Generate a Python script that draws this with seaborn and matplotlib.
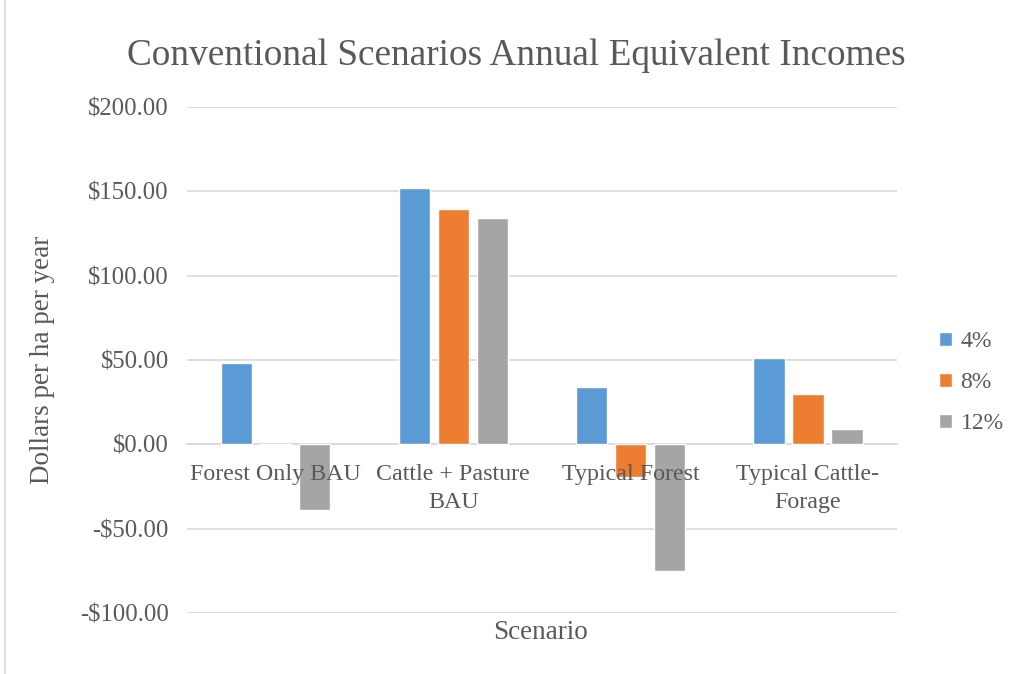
import pandas as pd
import numpy as np
import matplotlib.pyplot as plt
import seaborn as sns
from matplotlib.ticker import FuncFormatter

# data
scenarios = ['Forest Only BAU', 'Cattle + Pasture\nBAU', 'Typical Forest', 'Typical Cattle-\nForage']
rates = ['4%', '8%', '12%']
vals_4 = [48, 152, 34, 51]
vals_8 = [-0.5, 139.5, -19.5, 30]
vals_12 = [-39, 134, -75, 9]

df = pd.DataFrame({
    'Scenario': scenarios * 3,
    'Rate': [r for r in rates for _ in scenarios],
    'Value': vals_4 + vals_8 + vals_12,
})

sns.set_style('white')
plt.rcParams['font.family'] = ['Liberation Serif', 'DejaVu Serif']
txt = '#595959'
grid = '#D9D9D9'
palette = ['#5B9BD5', '#ED7D31', '#A5A5A5']

fig = plt.figure(figsize=(10.11, 6.74), dpi=100)
ax = fig.add_axes([0.185, 0.0905, 0.702, 0.7505])

sns.barplot(data=df, x='Scenario', y='Value', hue='Rate', palette=palette,
            width=0.66, gap=0.2, ax=ax, saturation=1)

ax.set_ylim(-100, 200)
ax.set_yticks(np.arange(-100, 201, 50))
ax.yaxis.set_major_formatter(FuncFormatter(lambda v, p: f'-${abs(v):.2f}' if v < 0 else f'${v:.2f}'))
ax.grid(axis='y', color=grid, linewidth=1.2)
ax.set_axisbelow(True)
ax.xaxis.set_zorder(5)  # category labels sit on top of the bars
for s in ['top', 'right', 'left']:
    ax.spines[s].set_visible(False)
ax.spines['bottom'].set_position(('data', 0))
ax.spines['bottom'].set_color(grid)
ax.spines['bottom'].set_linewidth(1.2)
ax.spines['bottom'].set_zorder(0.6)
ax.tick_params(axis='x', length=0, pad=14, labelsize=17.3, labelcolor=txt)
ax.tick_params(axis='y', length=0, pad=13, labelsize=17.8, labelcolor=txt)
for lbl in ax.get_xticklabels():
    lbl.set_verticalalignment('top')
    lbl.set_linespacing(1.45)

ax.set_xlabel('')
ax.set_ylabel('')
fig.text(0.535, 0.061, 'Scenario', ha='center', va='center', fontsize=19.5, color=txt)
fig.text(0.042, 0.466, 'Dollars per ha per year', ha='center', va='center',
         rotation=90, fontsize=19.5, color=txt)
fig.text(0.511, 0.917, 'Conventional Scenarios Annual Equivalent Incomes',
         ha='center', va='center', fontsize=26.8, color=txt)

ax.legend(title=None, loc='center left', bbox_to_anchor=(1.03, 0.455), frameon=False,
          fontsize=17, labelcolor=txt, handlelength=0.55, handleheight=0.55,
          handletextpad=0.35, labelspacing=0.85)

# light chart-area border on the left
fig.add_artist(plt.Line2D([0.005, 0.005], [0, 1], color=grid, linewidth=1.2))

fig.savefig('out.png', dpi=100)
